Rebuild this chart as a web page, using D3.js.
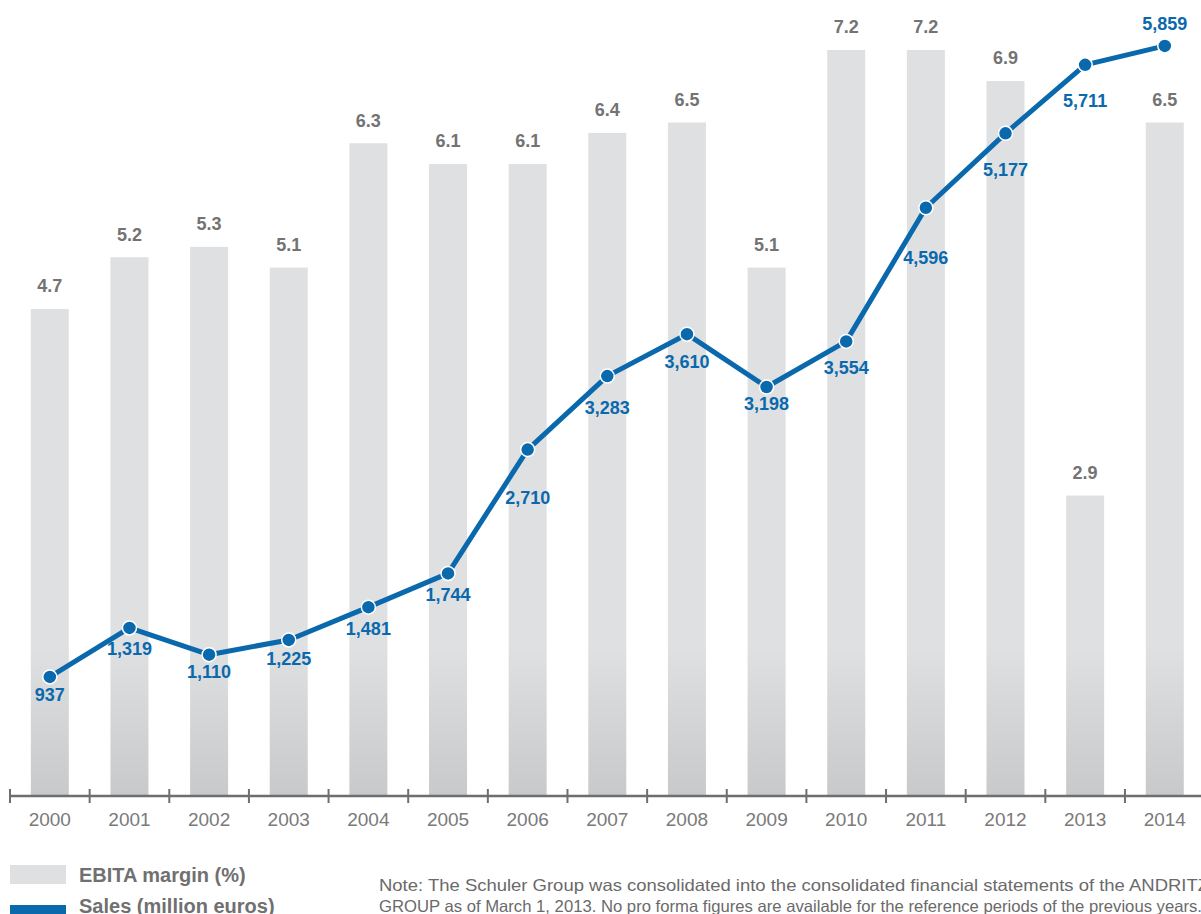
<!DOCTYPE html>
<html>
<head>
<meta charset="utf-8">
<script src="https://cdn.jsdelivr.net/npm/d3@7"></script>
<style>
html,body{margin:0;padding:0;background:#fff;}
svg{display:block;}
</style>
</head>
<body>
<svg id="chart" width="1201" height="914"></svg>
<script>
const years = ["2000","2001","2002","2003","2004","2005","2006","2007","2008","2009","2010","2011","2012","2013","2014"];
const ebitaMargin = [4.7,5.2,5.3,5.1,6.3,6.1,6.1,6.4,6.5,5.1,7.2,7.2,6.9,2.9,6.5];
const sales = [937,1319,1110,1225,1481,1744,2710,3283,3610,3198,3554,4596,5177,5711,5859];
const legendLabels = ["EBITA margin (%)","Sales (million euros)"];
const noteLines = [
  "Note: The Schuler Group was consolidated into the consolidated financial statements of the ANDRITZ",
  "GROUP as of March 1, 2013. No pro forma figures are available for the reference periods of the previous years."
];

// layout (not data): vertical offset of each sales label from its point
const salesLabelDy = [18,21,17,19,22,21,48,32,28,17,26,50,36,36,-22];

const svg = d3.select("#chart");
const blue = "#0a69ad", grayText = "#737373", barColor = "#dfe0e2";

const x = d3.scaleBand().domain(years).range([10, 10 + 15 * 79.64]).paddingInner(0.52).paddingOuter(0.26);
const yBar = d3.scaleLinear().domain([0, 7.2]).range([796, 50]);
const ySales = d3.scaleLinear().domain([0, 6000]).range([797, 27.8]);

const defs = svg.append("defs");
const grad = defs.append("linearGradient").attr("id","barGrad")
  .attr("gradientUnits","userSpaceOnUse").attr("x1",0).attr("x2",0).attr("y1",0).attr("y2",796);
grad.append("stop").attr("offset", 648/796).attr("stop-color", barColor);
grad.append("stop").attr("offset", 1).attr("stop-color", "#c8c9cb");

const step = x.step();
const bw = 38;
const cx = d => x(d) + x.bandwidth() / 2;

// bars
svg.append("g").selectAll("rect").data(years).join("rect")
  .attr("x", (d) => cx(d) - bw/2)
  .attr("width", bw)
  .attr("y", (d,i) => yBar(ebitaMargin[i]))
  .attr("height", (d,i) => yBar(0) - yBar(ebitaMargin[i]))
  .attr("fill", "url(#barGrad)");

// bar labels
svg.append("g").selectAll("text").data(years).join("text")
  .attr("x", d => cx(d))
  .attr("y", (d,i) => yBar(ebitaMargin[i]) - 23)
  .attr("dy", "0.35em")
  .attr("text-anchor","middle")
  .attr("font-family","Liberation Sans, Arial, sans-serif")
  .attr("font-weight","bold")
  .attr("font-size", 18)
  .attr("fill", grayText)
  .text((d,i) => d3.format(".1f")(ebitaMargin[i]));

// axis
const axisG = svg.append("g");
axisG.append("line").attr("x1",10).attr("x2",1201).attr("y1",796).attr("y2",796)
  .attr("stroke","#6e6e6e").attr("stroke-width",2.5);
const boundaries = years.map(d => x(d) - (step - x.bandwidth())/2);
axisG.selectAll("line.tick").data(boundaries).join("line").attr("class","tick")
  .attr("x1", d => d).attr("x2", d => d).attr("y1", 789).attr("y2", 803)
  .attr("stroke","#6e6e6e").attr("stroke-width",2);
axisG.selectAll("text").data(years).join("text")
  .attr("x", d => cx(d)).attr("y", 819).attr("dy","0.35em")
  .attr("text-anchor","middle")
  .attr("font-family","Liberation Sans, Arial, sans-serif")
  .attr("font-size", 19)
  .attr("fill", "#7a7a7a")
  .text(d => d);

// sales line
const line = d3.line().x((d,i) => cx(years[i])).y(d => ySales(d));
svg.append("path").datum(sales).attr("d", line)
  .attr("fill","none").attr("stroke", blue).attr("stroke-width", 5).attr("stroke-linejoin","round");
svg.append("g").selectAll("circle").data(sales).join("circle")
  .attr("cx", (d,i) => cx(years[i])).attr("cy", d => ySales(d)).attr("r", 7)
  .attr("fill", blue).attr("stroke","#fff").attr("stroke-width",1.5);
svg.append("g").selectAll("text").data(sales).join("text")
  .attr("x", (d,i) => cx(years[i]))
  .attr("y", (d,i) => ySales(d) + salesLabelDy[i])
  .attr("dy","0.35em")
  .attr("text-anchor","middle")
  .attr("font-family","Liberation Sans, Arial, sans-serif")
  .attr("font-weight","bold")
  .attr("font-size", 18)
  .attr("fill", blue)
  .text(d => d3.format(",")(d));

// legend
const leg = svg.append("g");
leg.append("rect").attr("x",10).attr("y",865).attr("width",56).attr("height",19).attr("fill",barColor);
leg.append("rect").attr("x",10).attr("y",905).attr("width",56).attr("height",10).attr("fill",blue);
leg.selectAll("text").data(legendLabels).join("text")
  .attr("x",79).attr("y",(d,i) => 882 + i*31)
  .attr("font-family","Liberation Sans, Arial, sans-serif")
  .attr("font-weight","bold").attr("font-size",20).attr("fill","#707070")
  .text(d => d);

// note
svg.append("g").selectAll("text").data(noteLines).join("text")
  .attr("x",379).attr("y",(d,i) => 891 + i*21)
  .attr("font-family","Liberation Sans Narrow, Liberation Sans, Arial, sans-serif")
  .attr("font-size",16.5).attr("fill","#6a6a6a")
  .attr("textLength", (d,i) => i === 0 ? 830 : 823)
  .attr("lengthAdjust","spacingAndGlyphs")
  .text(d => d);
</script>
</body>
</html>
